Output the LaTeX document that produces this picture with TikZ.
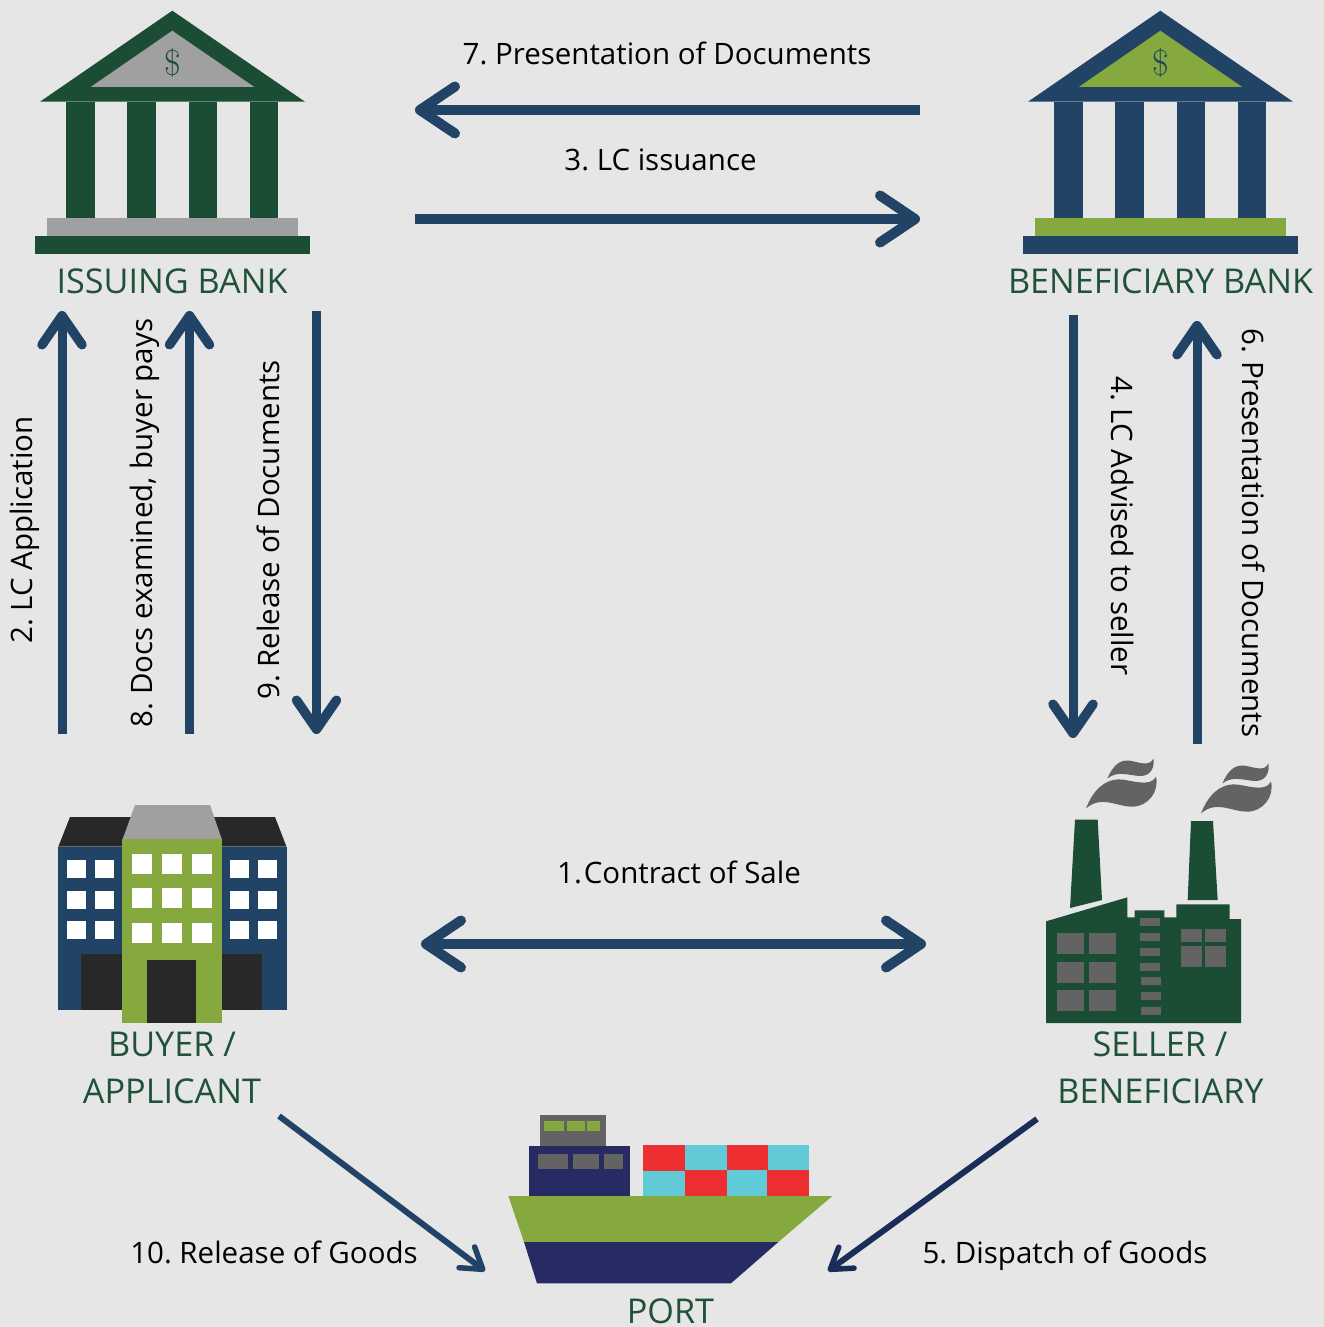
\documentclass[tikz,border=0pt]{standalone}
\usepackage{fontspec}
\setmainfont{Open Sans}
\usetikzlibrary{arrows.meta}
\definecolor{bgc}{HTML}{E6E6E6}
\definecolor{arrowblue}{HTML}{214365}
\definecolor{diagnavy}{HTML}{1A2C58}
\definecolor{bankgreen}{HTML}{1A4D33}
\definecolor{labelgreen}{HTML}{20523A}
\definecolor{lgray}{HTML}{A0A0A0}
\definecolor{olive}{HTML}{85A83F}
\definecolor{darkk}{HTML}{282828}
\definecolor{shipnavy}{HTML}{262C63}
\definecolor{redc}{HTML}{EE2F32}
\definecolor{teal}{HTML}{60CBD6}
\definecolor{dgray}{HTML}{636363}
\frenchspacing
\tikzset{
  x=1pt,y=-1pt,
  bigbarb/.tip={Straight Barb[round,length=35pt,width=47pt,line width=10pt]},
  vbarb/.tip={Straight Barb[round,length=29pt,width=40pt,line width=9.5pt]},
  smallbarb/.tip={Straight Barb[round,length=20pt,width=26pt,line width=5.5pt]},
  harrow/.style={draw=arrowblue,line width=10.5pt,-{bigbarb}},
  varrow/.style={draw=arrowblue,line width=9pt,-{vbarb}},
  darrow/.style={line width=6pt,-{smallbarb}},
  lbl/.style={inner sep=0pt,anchor=base,font=\fontsize{29.5}{30}\selectfont,text=black},
  title/.style={inner sep=0pt,anchor=base,font=\fontsize{34.2}{35}\selectfont,text=labelgreen},
  zoomed/.style={x=0.33333pt,y=-0.33333pt},
}
\newcommand{\bankicon}[4]{% xshift, main, accent, name
  \begin{scope}[shift={(#1,0)}]
    \fill[#2] (172.3,10.7)--(305,101.7)--(40,101.7)--cycle;
    \fill[#3] (172.3,30.7)--(254.3,87)--(90.7,87)--cycle;
    \fill[#2] (66.3,101.7) rectangle (95,218);
    \fill[#2] (127.3,101.7) rectangle (156,218);
    \fill[#2] (188.7,101.7) rectangle (217,218);
    \fill[#2] (249.7,101.7) rectangle (278.3,218);
    \fill[#3] (47,218) rectangle (298,236);
    \fill[#2] (34.7,236) rectangle (310,253.7);
    \node[inner sep=0pt,text=#2,font=\fontsize{24}{24}\selectfont] (#4) at (172.3,62.5) {\scalebox{1.45}{$\$$}};
  \end{scope}}
\newcommand{\smokepuff}[2]{%
  \begin{scope}[shift={(#1,#2)},zoomed]
    \fill[dgray] (232,85) .. controls (250,45) and (270,28) .. (300,32)
      .. controls (330,38) and (360,50) .. (370,25)
      .. controls (374,50) and (365,75) .. (335,78)
      .. controls (300,78) and (265,60) .. (232,85) -- cycle;
    \fill[dgray] (168,175) .. controls (190,120) and (222,90) .. (265,88)
      .. controls (300,88) and (360,115) .. (378,80)
      .. controls (388,125) and (355,170) .. (305,170)
      .. controls (260,170) and (215,135) .. (168,175) -- cycle;
  \end{scope}}
\begin{document}
\begin{tikzpicture}
\useasboundingbox (0,0) rectangle (1324,1327);
\fill[bgc] (0,0) rectangle (1324,1327);

% banks
\bankicon{0}{bankgreen}{lgray}{dollarA}
\bankicon{988}{arrowblue}{olive}{dollarB}

% buyer
\begin{scope}
  \fill[arrowblue] (57.7,846.7) rectangle (287,1010);
  \fill[darkk] (58.3,846.7)--(70,817)--(275,817)--(286.5,846.7)--cycle;
  \fill[darkk] (81,954) rectangle (262,1010);
  \fill[lgray] (122.7,839)--(135,805)--(210,805)--(221.7,839)--cycle;
  \fill[olive] (122,839.3) rectangle (222,1023);
  \fill[darkk] (147,960) rectangle (196,1023);
  \foreach \xa in {67,95,230,258}
    \foreach \ya in {860,891,921}
      \fill[white] (\xa,\ya) rectangle +(19,18);
  \foreach \xa in {132,162,192}
    \foreach \ya in {854,888,923}
      \fill[white] (\xa,\ya) rectangle +(20,20);
\end{scope}

% factory
\smokepuff{1030}{750}
\smokepuff{1145}{755}
\begin{scope}[shift={(1030,750)},zoomed]
  \fill[bankgreen] (135,209)--(203,209)--(216,450)--(120,474)--cycle;
  \fill[bankgreen] (483,213)--(549,213)--(563,450)--(473,450)--cycle;
  \fill[bankgreen] (48,819)--(48,514)--(292,442)--(292,502)--(314,502)--(314,481)--(403,481)--(403,502)--(439,502)--(439,463)--(599,463)--(599,507)--(633,507)--(633,819)--cycle;
  \foreach \xa in {81,177}
    \foreach \ya in {549,636,720}
      \fill[dgray] (\xa,\ya) rectangle +(81,63);
  \foreach \ya in {504,549,594,639}
    \fill[dgray] (330,\ya) rectangle +(60,24);
  \foreach \ya in {681,726,771}
    \fill[dgray] (333,\ya) rectangle +(60,24);
  \foreach \xa in {453,525} {
    \fill[dgray] (\xa,537) rectangle +(63,39);
    \fill[dgray] (\xa,588) rectangle +(63,63);
  }
\end{scope}

% ship
\begin{scope}[shift={(500,1105)},zoomed]
  \fill[dgray] (120,30) rectangle (318,123);
  \fill[olive] (132,48) rectangle (192,78);
  \fill[olive] (201,48) rectangle (255,78);
  \fill[olive] (261,48) rectangle (300,78);
  \fill[shipnavy] (87,123) rectangle (390,273);
  \fill[dgray] (114,147) rectangle (204,192);
  \fill[dgray] (219,147) rectangle (297,192);
  \fill[dgray] (312,147) rectangle (369,192);
  \fill[redc] (429,120) rectangle (555,197);
  \fill[teal] (555,120) rectangle (681,195);
  \fill[redc] (681,120) rectangle (804,195);
  \fill[teal] (804,120) rectangle (927,195);
  \fill[teal] (429,197) rectangle (555,275);
  \fill[redc] (555,195) rectangle (681,275);
  \fill[teal] (681,195) rectangle (801,275);
  \fill[redc] (801,195) rectangle (927,275);
  \fill[olive] (25,273)--(997,273)--(835,411)--(72,411)--cycle;
  \fill[shipnavy] (72,411)--(835,411)--(693,535)--(111,535)--cycle;
\end{scope}

% titles
\node[title] (issuing) at (172,293) {ISSUING BANK};
\node[title] (benbank) at (1160.5,293) {BENEFICIARY BANK};
\node[title] (buyer) at (172,1056) {BUYER /};
\node[title] (applicant) at (172,1103) {APPLICANT};
\node[title] (seller) at (1160,1056) {SELLER /};
\node[title] (beneficiary) at (1160.5,1103) {BENEFICIARY};
\node[title] (port) at (670.5,1323) {PORT};

% labels
\node[lbl] (t7) at (667,65) {7. Presentation of Documents};
\node[lbl] (t3) at (660.5,170) {3. LC issuance};
\node[lbl] (t1) at (679,883) {1.\kern2pt Contract of Sale};
\node[lbl] (t10) at (274,1263) {10. Release of Goods};
\node[lbl] (t5) at (1065,1263) {5. Dispatch of Goods};
\node[lbl,rotate=90] (t2) at (32.5,530) {2. LC Application};
\node[lbl,rotate=90] (t8) at (152.5,523) {8. Docs examined, buyer pays};
\node[lbl,rotate=90] (t9) at (279,530) {9. Release of Documents};
\node[lbl,rotate=-90] (t4) at (1111,526) {4. LC Advised to seller};
\node[lbl,rotate=-90] (t6) at (1242,533) {6. Presentation of Documents};

% connector ends
\coordinate (a7s) at (920,110); \coordinate (a7e) at (415,110);
\coordinate (a3s) at (415,219); \coordinate (a3e) at (920,219);
\coordinate (a1s) at (421,944); \coordinate (a1e) at (926,944);
\coordinate (a2s) at (62,734);  \coordinate (a2e) at (62,311);
\coordinate (a8s) at (189.5,734); \coordinate (a8e) at (189.5,311);
\coordinate (a9s) at (316.5,311); \coordinate (a9e) at (316.5,734);
\coordinate (a4s) at (1073,315); \coordinate (a4e) at (1073,738);
\coordinate (a6s) at (1197,744); \coordinate (a6e) at (1197,321);
\coordinate (a10s) at (279,1116); \coordinate (a10e) at (485,1271);
\coordinate (a5s) at (1037,1119); \coordinate (a5e) at (828,1271);

\draw[harrow] (a7s) -- (a7e);
\draw[harrow] (a3s) -- (a3e);
\draw[harrow,{bigbarb}-{bigbarb}] (a1s) -- (a1e);
\draw[varrow] (a2s) -- (a2e);
\draw[varrow] (a8s) -- (a8e);
\draw[varrow] (a9s) -- (a9e);
\draw[varrow] (a4s) -- (a4e);
\draw[varrow] (a6s) -- (a6e);
\draw[darrow,draw=arrowblue] (a10s) -- (a10e);
\draw[darrow,draw=diagnavy] (a5s) -- (a5e);
\end{tikzpicture}
\end{document}
